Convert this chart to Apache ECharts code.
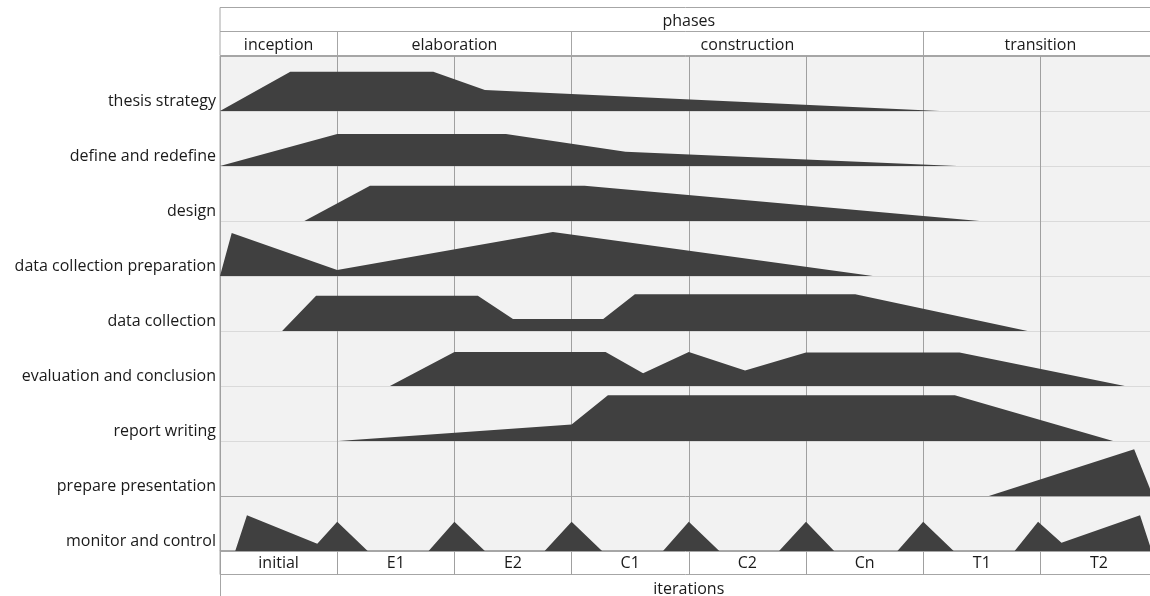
<!DOCTYPE html>
<html>
<head>
<meta charset="utf-8">
<script src="https://cdn.jsdelivr.net/npm/echarts@6/dist/echarts.min.js"></script>
<style>
html,body{margin:0;padding:0;background:#fff;}
#chart{width:1150px;height:596px;}
</style>
</head>
<body>
<div id="chart"></div>
<script>
// ---- data (x = iteration position 0..8, h = effort as fraction of a row) ----
const headerTitle = ['phases'];
const phaseNames = ['inception', 'elaboration', 'construction', 'transition'];
const phaseSpans = [1, 2, 3, 2];
const iterationNames = ['initial', 'E1', 'E2', 'C1', 'C2', 'Cn', 'T1', 'T2'];
const iterationSpans = [1, 1, 1, 1, 1, 1, 1, 1];
const taskNames = ['thesis strategy', 'define and redefine', 'design', 'data collection preparation',
  'data collection', 'evaluation and conclusion', 'report writing', 'prepare presentation', 'monitor and control'];

const thesisStrategy = [[0, 0], [0.6, 0.715], [1.82, 0.715], [2.26, 0.38], [6.14, 0]];
const defineAndRedefine = [[0, 0], [1.0, 0.58], [2.44, 0.58], [3.46, 0.26], [6.29, 0]];
const design = [[0.72, 0], [1.28, 0.64], [3.11, 0.64], [6.48, 0]];
const dataCollectionPreparation = [[0, 0], [0.1, 0.78], [1.0, 0.11], [2.84, 0.8], [5.57, 0]];
const dataCollection = [[0.53, 0], [0.82, 0.64], [2.2, 0.64], [2.5, 0.22], [3.27, 0.22], [3.54, 0.67], [5.42, 0.67], [6.89, 0]];
const evaluationAndConclusion = [[1.45, 0], [2.0, 0.62], [3.29, 0.62], [3.61, 0.23], [4.0, 0.62], [4.48, 0.28], [5.0, 0.61], [6.31, 0.61], [7.72, 0]];
const reportWriting = [[1.01, 0], [3.0, 0.3], [3.31, 0.83], [6.27, 0.83], [7.62, 0]];
const preparePresentation = [[6.56, 0], [7.8, 0.85], [7.96, 0]];
const monitorAndControl = [[0.13, 0], [0.23, 0.65], [0.83, 0.13], [1.0, 0.53], [1.26, 0],
  [1.78, 0], [2.0, 0.53], [2.26, 0],
  [2.77, 0], [3.0, 0.53], [3.26, 0],
  [3.78, 0], [4.0, 0.53], [4.26, 0],
  [4.77, 0], [5.0, 0.53], [5.24, 0],
  [5.78, 0], [6.0, 0.53], [6.26, 0],
  [6.78, 0], [6.98, 0.53], [7.18, 0.15], [7.85, 0.65], [7.95, 0]];

const taskProfiles = [thesisStrategy, defineAndRedefine, design, dataCollectionPreparation,
  dataCollection, evaluationAndConclusion, reportWriting, preparePresentation, monitorAndControl];

// ---- styling ----
const FONT = 'Open Sans';
const TXT = '#1a1a1a';
const LINE = '#a6a6a6';
const VLINE = '#a0a0a0';
const HLIGHT = '#dadada';
const FILL = '#404040';
const LEFT = 220;
const PLOT_W = 937.6;

// phase boundary indices (in iteration units)
const phaseStarts = [];
phaseSpans.reduce((acc, s) => { phaseStarts.push(acc); return acc + s; }, 0);

const chart = echarts.init(document.getElementById('chart'), null, {renderer: 'canvas'});

const boxStyle = {show: true, backgroundColor: '#ffffff', borderColor: LINE, borderWidth: 1};
const gridBase = {left: LEFT, width: PLOT_W, containLabel: false, outerBoundsMode: 'none'};
const grids = [
  Object.assign({}, gridBase, boxStyle, {top: 7.5, height: 24}),
  Object.assign({}, gridBase, boxStyle, {top: 31.5, height: 24}),
  Object.assign({}, gridBase, {top: 56, height: 495, show: true, backgroundColor: '#f2f2f2', borderColor: LINE, borderWidth: 1}),
  Object.assign({}, gridBase, boxStyle, {top: 550.5, height: 24}),
  Object.assign({}, gridBase, {top: 575, height: 21})
];

const nRows = taskNames.length;
const hColors = [];
for (let v = 0; v <= nRows; v++) {
  hColors.push((v <= 1 || v === nRows) ? LINE : HLIGHT);
}

const noBox = {color: 'rgba(0,0,0,0)', borderWidth: 0};
const cellLabel = {show: true, position: 'inside', color: TXT, fontFamily: FONT, fontSize: 16};

const series = [];
// header "phases"
series.push({type: 'bar', xAxisIndex: 0, yAxisIndex: 0, stack: 'hdr', data: [8], barWidth: '100%',
  itemStyle: noBox, label: Object.assign({}, cellLabel, {formatter: '{b}', offset: [0, 2]}), silent: true});
// phases row
phaseNames.forEach((name, i) => {
  series.push({type: 'bar', name: name, xAxisIndex: 1, yAxisIndex: 1, stack: 'ph', data: [phaseSpans[i]],
    barWidth: '100%', itemStyle: noBox, label: Object.assign({}, cellLabel, {formatter: '{a}', offset: [0, 2]}), silent: true});
});
// task humps
taskProfiles.forEach((prof, i) => {
  const base = nRows - 1 - i;
  series.push({
    type: 'line', name: taskNames[i], xAxisIndex: 2, yAxisIndex: 2,
    data: prof.map(p => [p[0], base + p[1]]),
    symbol: 'none', showSymbol: false, smooth: false,
    lineStyle: {width: 0, opacity: 0},
    areaStyle: {color: FILL, opacity: 1, origin: base},
    silent: true, z: 3
  });
});
// iterations row
series.push({type: 'bar', xAxisIndex: 3, yAxisIndex: 3, data: iterationSpans, barWidth: '100%',
  itemStyle: noBox, label: Object.assign({}, cellLabel, {formatter: '{b}', offset: [0, 1]}), silent: true});

const option = {
  animation: false,
  backgroundColor: '#ffffff',
  textStyle: {fontFamily: FONT},
  grid: grids,
  xAxis: [
    {gridIndex: 0, type: 'value', min: 0, max: 8, show: false},
    {gridIndex: 1, type: 'value', min: 0, max: 8, show: false},
    {gridIndex: 2, type: 'value', min: 0, max: 8, interval: 1, z: 1,
      axisLine: {show: false}, axisTick: {show: false}, axisLabel: {show: false},
      splitLine: {show: true, lineStyle: {color: VLINE, width: 1}}},
    {gridIndex: 3, type: 'category', data: iterationNames, boundaryGap: true,
      axisLine: {show: false}, axisTick: {show: false}, axisLabel: {show: false},
      splitLine: {show: true, interval: 0, lineStyle: {color: VLINE, width: 1}},
      name: 'iterations', nameLocation: 'middle', nameGap: 7,
      nameTextStyle: {color: TXT, fontFamily: FONT, fontSize: 16}},
    {gridIndex: 4, type: 'value', min: 0, max: 1, show: false},
    {gridIndex: 1, type: 'category', data: iterationNames, boundaryGap: true,
      axisLine: {show: false}, axisTick: {show: false}, axisLabel: {show: false},
      splitLine: {show: true, interval: (idx) => phaseStarts.indexOf(idx) > 0, lineStyle: {color: LINE, width: 1}}}
  ],
  yAxis: [
    {gridIndex: 0, type: 'category', data: headerTitle, show: false},
    {gridIndex: 1, type: 'category', data: ['phase'], show: false},
    {gridIndex: 2, type: 'value', min: 0, max: nRows, interval: 1, z: 0,
      axisLine: {show: false}, axisTick: {show: false},
      axisLabel: {
        show: true, margin: 4, color: TXT, fontFamily: FONT, fontSize: 16, verticalAlign: 'bottom',
        padding: [0, 0, 2, 0],
        formatter: v => (v < nRows ? taskNames[nRows - 1 - v] : '')
      },
      splitLine: {show: true, lineStyle: {color: hColors, width: 1}}},
    {gridIndex: 3, type: 'value', min: 0, max: 1, show: false},
    {gridIndex: 4, type: 'value', min: 0, max: 1,
      axisLine: {show: true, lineStyle: {color: LINE, width: 1}}, axisTick: {show: false},
      axisLabel: {show: false}, splitLine: {show: false}}
  ],
  series: series
};

chart.setOption(option);
</script>
</body>
</html>
